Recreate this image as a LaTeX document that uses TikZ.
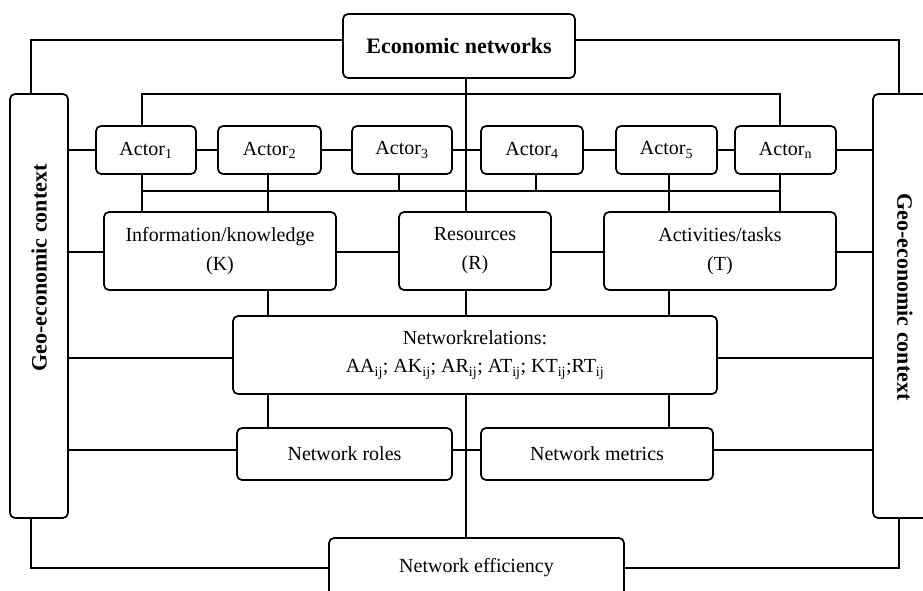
\documentclass[tikz,border=0pt]{standalone}
\usepackage{fontspec}
\setmainfont{Liberation Serif}
\begin{document}
\begin{tikzpicture}[x=1pt,y=-1pt,
  line width=1.7pt,
  box/.style={draw, rounded corners=5pt, inner sep=0pt, align=center,
    font=\fontsize{20}{29}\selectfont},
  bold/.style={font=\fontsize{22}{26}\selectfont\bfseries, inner sep=0pt}]
\clip (0,0) rectangle (923,590);
% boxes
\node[box, minimum width=232, minimum height=64, font=\fontsize{22}{26}\selectfont\bfseries] (econ) at (459,46) {Economic networks};
\node[box, minimum width=58, minimum height=424] (geoL) at (39,306) {};
\node[bold, rotate=90] (geoLt) at (39,268) {Geo-economic context};
\node[box, minimum width=64, minimum height=424] (geoR) at (905,306) {};
\node[bold, rotate=-90] (geoRt) at (905,297) {Geo-economic context};
\node[box, minimum width=100, minimum height=48] (a1) at (146,150) {Actor\textsubscript{1}};
\node[box, minimum width=103, minimum height=48] (a2) at (269.5,150) {Actor\textsubscript{2}};
\node[box, minimum width=100, minimum height=48] (a3) at (402,150) {Actor\textsubscript{3}};
\node[box, minimum width=102, minimum height=48] (a4) at (532,150) {Actor\textsubscript{4}};
\node[box, minimum width=101, minimum height=48] (a5) at (666.5,150) {Actor\textsubscript{5}};
\node[box, minimum width=101, minimum height=48] (an) at (785.5,150) {Actor\textsubscript{n}};
\node[box, minimum width=232, minimum height=78] (info) at (220,251) {Information/knowledge\\(K)};
\node[box, minimum width=152, minimum height=78] (res) at (475,251) {Resources\\(R)};
\node[box, minimum width=232, minimum height=78] (act) at (720,251) {Activities/tasks\\(T)};
\node[box, minimum width=484, minimum height=78, font=\fontsize{20}{28}\selectfont] (rel) at (475,355) {Networkrelations:\\AA\textsubscript{ij}; AK\textsubscript{ij}; AR\textsubscript{ij}; AT\textsubscript{ij}; KT\textsubscript{ij};RT\textsubscript{ij}};
\node[box, minimum width=215, minimum height=52] (roles) at (344.5,454) {Network roles};
\node[box, minimum width=232, minimum height=52] (metrics) at (597,454) {Network metrics};
\node[box, minimum width=295, minimum height=60] (eff) at (476.5,568) {Network efficiency};
% helper coordinates
\coordinate (vx) at (466,0);
\coordinate (tl) at (142,94);
\coordinate (tr) at (780,94);
\coordinate (bl) at (142,191);
\coordinate (br) at (780,191);
\coordinate (x2) at (268,0);
\coordinate (x3) at (399,0);
\coordinate (x4) at (536,0);
\coordinate (x5) at (669,0);
\coordinate (r1) at (0,150);
\coordinate (r2) at (0,252);
\coordinate (r3) at (0,358);
\coordinate (r4) at (0,450);
% outer frame
\draw ([yshift=6pt]econ.west) -| ([xshift=-8pt]geoL.north);
\draw ([yshift=6pt]econ.east) -| ([xshift=-6pt]geoR.north);
\draw ([xshift=-8pt]geoL.south) |- (eff.west);
\draw (eff.east) -| ([xshift=-6pt]geoR.south);
% central vertical
\draw (econ.south -| vx) -- (res.north -| vx);
\draw (res.south -| vx) -- (rel.north -| vx);
\draw (rel.south -| vx) -- (eff.north -| vx);
% top bus
\draw (a1.north -| tl) -- (tl) -- (tr) -- (an.north -| tr);
% actor row
\draw (geoL.east |- r1) -- (a1.west |- r1);
\draw (a1.east |- r1) -- (a2.west |- r1);
\draw (a2.east |- r1) -- (a3.west |- r1);
\draw (a3.east |- r1) -- (a4.west |- r1);
\draw (a4.east |- r1) -- (a5.west |- r1);
\draw (a5.east |- r1) -- (an.west |- r1);
\draw (an.east |- r1) -- (geoR.west |- r1);
% bottom bus
\draw (bl) -- (br);
\draw (a1.south -| bl) -- (info.north -| bl);
\draw (a2.south -| x2) -- (info.north -| x2);
\draw (a3.south -| x3) -- (bl -| x3);
\draw (a4.south -| x4) -- (bl -| x4);
\draw (a5.south -| x5) -- (act.north -| x5);
\draw (an.south -| br) -- (act.north -| br);
% middle row
\draw (geoL.east |- r2) -- (info.west |- r2);
\draw (info.east |- r2) -- (res.west |- r2);
\draw (res.east |- r2) -- (act.west |- r2);
\draw (act.east |- r2) -- (geoR.west |- r2);
\draw (info.south -| x2) -- (rel.north -| x2);
\draw (act.south -| x5) -- (rel.north -| x5);
% relations row
\draw (geoL.east |- r3) -- (rel.west |- r3);
\draw (rel.east |- r3) -- (geoR.west |- r3);
\draw (rel.south -| x2) -- (roles.north -| x2);
\draw (rel.south -| x5) -- (metrics.north -| x5);
% roles row
\draw (geoL.east |- r4) -- (roles.west |- r4);
\draw (roles.east |- r4) -- (metrics.west |- r4);
\draw (metrics.east |- r4) -- (geoR.west |- r4);
\end{tikzpicture}
\end{document}
